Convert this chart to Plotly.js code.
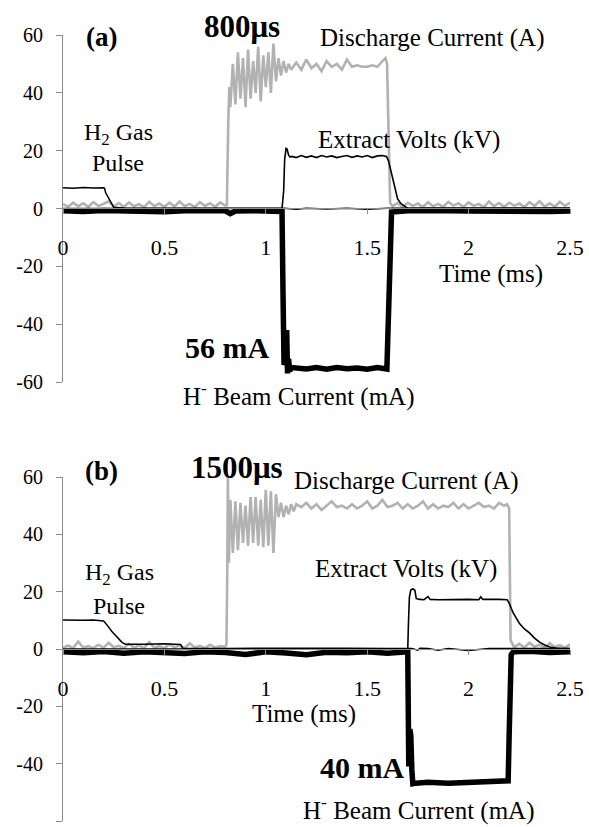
<!DOCTYPE html>
<html>
<head>
<meta charset="utf-8">
<script src="https://cdn.plot.ly/plotly-3.0.1.min.js"></script>
<style>html,body{margin:0;padding:0;background:#fff;}#chart{width:589px;height:827px;}</style>
</head>
<body>
<div id="chart"></div>
<script>
// ---------- Panel (a) : 800 us discharge ----------
const aDisT = [0,0.025,0.05,0.075,0.1,0.125,0.15,0.175,0.2,0.225,0.25,0.275,0.3,0.325,0.35,0.375,0.4,0.425,0.45,0.475,0.5,0.525,0.55,0.575,0.6,0.625,0.65,0.675,0.7,0.725,0.75,0.775,0.8,
  0.808,0.815,0.82,
  0.825,0.8375,0.85,0.8625,0.875,0.8875,0.9,0.9125,0.925,0.9375,0.95,0.9625,0.975,0.9875,1.0,1.0125,1.025,1.0375,1.05,1.0625,1.075,1.0875,1.1,1.1125,1.125,
  1.15,1.175,1.2,1.225,1.25,1.275,1.3,1.325,1.35,1.375,1.4,1.425,1.45,1.475,1.5,1.525,1.55,1.575,1.59,
  1.598,1.613,
  1.625,1.65,1.675,1.7,1.725,1.75,1.775,1.8,1.825,1.85,1.875,1.9,1.925,1.95,1.975,2.0,2.025,2.05,2.075,2.1,2.125,2.15,2.175,2.2,2.225,2.25,2.275,2.3,2.325,2.35,2.375,2.4,2.425,2.45,2.475,2.5];
const aDisV = [1.5,0.6,2.0,0.8,1.8,0.5,2.2,0.9,1.6,2.5,0.7,1.9,0.6,2.1,0.8,1.5,0.5,2.3,0.9,1.7,0.6,2.0,0.7,2.4,0.8,1.6,0.5,2.2,0.9,1.8,0.6,2.1,1.0,
  1.2,30,42,
  35,50,36,54,38,52,35,55,38,51,40,56,37,53,42,54,40,57,44,52,46,51,47,50,48,
  50.5,48,51.5,48.5,50,47.5,51,49,50,48,51.5,49,49.5,49,49,49.5,49,51,52,
  50,2,
  0.8,1.9,0.6,2.0,0.9,1.7,0.5,2.2,0.8,1.6,0.6,2.3,1.0,1.8,0.6,2.1,0.9,1.6,0.5,2.4,0.8,1.9,0.6,2.0,1.0,1.7,0.5,2.2,0.9,2.5,0.7,1.8,0.6,2.3,0.9,2.0];

const aGasT = [0,0.05,0.1,0.15,0.2,0.205,0.21,0.22,0.23,0.24,0.25,0.3,0.6,0.9,1.09,1.15,1.2,1.3,1.4,1.5,1.6,1.8,2.1,2.5];
const aGasV = [7.2,7.0,7.3,7.1,7.2,7.0,5.5,4.2,2.8,1.2,0.4,0.2,0.2,0.1,0.1,-0.3,0.1,-0.2,0.1,-0.3,0.1,0.2,0.1,0.2];

const aExtT = [0,0.5,1.0,1.08,1.088,1.093,1.1,1.105,1.112,1.12,1.13,1.15,1.175,1.2,1.225,1.25,1.275,1.3,1.325,1.35,1.375,1.4,1.425,1.45,1.475,1.5,1.525,1.55,1.575,1.595,1.605,1.615,1.625,1.635,1.65,1.665,1.685,1.7,2.0,2.5];
const aExtV = [0,0,0,0,6,17,20.8,20.6,18.5,17.8,18.0,17.6,18.3,17.7,18.2,17.6,18.3,17.8,18.2,17.6,18.0,18.3,17.7,18.2,17.8,18.3,17.6,18.2,18.3,18.0,16.5,13.5,11,7.3,3.3,1.8,0.6,0,0,0];

const aBeamT = [0,0.1,0.2,0.3,0.4,0.5,0.6,0.7,0.8,0.825,0.85,0.95,1.05,1.08,1.085,1.09,1.098,1.103,1.107,1.112,1.118,1.13,1.2,1.25,1.3,1.35,1.4,1.45,1.5,1.55,1.597,1.605,1.612,1.62,1.7,1.8,1.9,2.0,2.1,2.2,2.3,2.4,2.5];
const aBeamV = [-0.8,-1.0,-0.7,-0.9,-0.8,-1.1,-0.8,-0.9,-0.8,-1.8,-0.9,-0.8,-0.9,-1.0,-30,-54,-53,-42,-57,-52,-56,-55,-55.5,-55,-55.6,-55,-55.4,-55.2,-55.6,-55,-55.5,-35,-8,-1.2,-0.8,-1.0,-0.8,-0.9,-1.0,-0.8,-0.9,-1.0,-0.9];

// ---------- Panel (b) : 1500 us discharge ----------
const bDisT = [0,0.025,0.05,0.075,0.1,0.125,0.15,0.175,0.2,0.225,0.25,0.275,0.3,0.325,0.35,0.375,0.4,0.425,0.45,0.475,0.5,0.525,0.55,0.575,0.6,0.625,0.65,0.675,0.7,0.725,0.75,0.775,0.8,
  0.806,0.81,0.813,0.818,
  0.825,0.8375,0.85,0.8625,0.875,0.8875,0.9,0.9125,0.925,0.9375,0.95,0.9625,0.975,0.9875,1.0,1.0125,1.025,1.0375,1.05,1.0625,1.075,1.0875,1.1,1.1125,1.125,1.1375,1.15,
  1.175,1.2,1.225,1.25,1.275,1.3,1.325,1.35,1.375,1.4,1.425,1.45,1.475,1.5,1.525,1.55,1.575,1.6,1.625,1.65,1.675,1.7,1.725,1.75,1.775,1.8,1.825,1.85,1.875,1.9,1.925,1.95,1.975,2.0,2.025,2.05,2.075,2.1,2.125,2.15,2.175,
  2.19,2.2,2.207,
  2.225,2.25,2.275,2.3,2.325,2.35,2.375,2.4,2.425,2.45,2.475,2.5];
const bDisV = [0.4,1.2,0.3,2.6,0.5,1.0,0.3,1.5,0.4,2.2,0.6,1.1,0.3,1.8,0.5,1.2,0.4,2.4,0.5,1.0,0.3,1.6,0.6,1.2,0.4,2.0,0.5,1.1,0.3,1.5,0.5,1.0,0.8,
  1.5,28,60,30,
  52,33.5,51.5,34.5,51,37,50,36,53,37,53,36,52,35.5,55.5,36,55,33.5,54,46,51,46,50,47,50.5,48,50.5,
  49.5,51,49,50.5,48.5,50,51.5,49.5,50,49,50.5,49,50,51.5,49,50,52,49.5,50,51,49,50.5,49,50,51.5,49,50.5,49,50,49.5,51,49,50.5,49,50,51,49.5,50,49,51,50,
  50.5,49,3,
  0.6,1.8,0.5,2.2,0.8,1.5,0.4,2.0,0.7,1.3,0.5,1.6];

const bGasT = [0,0.05,0.1,0.15,0.195,0.2,0.21,0.22,0.23,0.24,0.25,0.26,0.27,0.28,0.29,0.3,0.31,0.4,0.5,0.58,0.59,0.8,1.0,1.2,1.4,1.6,1.72,1.75,1.76,1.8,1.85,1.9,2.0,2.1,2.2,2.3,2.5];
const bGasV = [10.1,10.0,10.0,10.1,10.0,9.8,9.0,8.2,7.2,6.2,5.4,4.6,3.8,3.0,2.4,1.9,1.7,1.7,1.8,1.6,0.3,0.2,0.3,0.2,0.3,0.2,0.2,-0.4,0.3,0.2,-0.4,0.2,-0.5,0.2,0.2,0.2,0.2];

const bExtT = [0,0.5,1.0,1.5,1.7,1.703,1.708,1.715,1.725,1.735,1.742,1.76,1.78,1.8,1.81,1.85,1.9,1.95,2.0,2.05,2.06,2.07,2.1,2.15,2.19,2.2,2.21,2.22,2.25,2.275,2.3,2.325,2.35,2.375,2.4,2.43,2.46,2.5];
const bExtV = [0,0,0,0,0,8,18,20.6,21.0,20.5,17.6,17.3,17.2,18.3,17.3,17.2,17.3,17.2,17.3,17.2,18.2,17.3,17.2,17.3,17.2,16.0,14.2,12.6,9.0,7.0,5.6,3.8,2.4,1.4,0.7,0.3,0.2,0.2];

const bBeamT = [0,0.1,0.2,0.3,0.4,0.5,0.6,0.7,0.8,0.9,1.0,1.1,1.2,1.3,1.4,1.5,1.6,1.7,1.702,1.705,1.71,1.715,1.72,1.725,1.74,1.8,1.9,2.0,2.1,2.195,2.2,2.205,2.21,2.22,2.3,2.4,2.5];
const bBeamV = [-1.0,-1.3,-0.9,-1.5,-1.0,-1.2,-1.6,-1.0,-1.2,-1.9,-1.0,-1.4,-2.0,-1.1,-1.3,-1.0,-1.5,-1.0,-25,-41,-28,-30,-42,-47,-46.8,-46.5,-46.8,-46.4,-46.2,-46,-30,-10,-2,-1.0,-0.8,-1.2,-1.0];

// ---------- Axis ticks ----------
const xTickVals = [0,0.5,1,1.5,2,2.5];
const xTickText = ['0','0.5','1','1.5','2','2.5'];
const yTickVals = [-60,-40,-20,0,20,40,60];
const yTickText = ['-60','-40','-20','0','20','40','60'];

// ---------- Build ----------
const W = 589, H = 827;
const fx = p => p / W;
const fy = p => 1 - p / H;
const SERIF = 'Liberation Serif';
const GRAY = 'rgb(178,178,178)';
const AXC = '#8c8c8c';

function traces(xa, ya, dT, dV, gT, gV, eT, eV, bT, bV) {
  return [
    {x: dT, y: dV, xaxis: xa, yaxis: ya, mode: 'lines', line: {color: GRAY, width: 2.6}, hoverinfo: 'skip'},
    {x: gT, y: gV, xaxis: xa, yaxis: ya, mode: 'lines', line: {color: '#000', width: 1.5}, hoverinfo: 'skip'},
    {x: eT, y: eV, xaxis: xa, yaxis: ya, mode: 'lines', line: {color: '#000', width: 1.6}, hoverinfo: 'skip'},
    {x: bT, y: bV, xaxis: xa, yaxis: ya, mode: 'lines', line: {color: '#000', width: 5.5}, hoverinfo: 'skip'}
  ];
}

const data = [].concat(
  traces('x', 'y', aDisT, aDisV, aGasT, aGasV, aExtT, aExtV, aBeamT, aBeamV),
  traces('x2', 'y2', bDisT, bDisV, bGasT, bGasV, bExtT, bExtV, bBeamT, bBeamV)
);

function xAxis(posPx) {
  return {
    domain: [fx(63), fx(570)], range: [0, 2.5], anchor: 'free', position: fy(posPx),
    showline: true, linecolor: AXC, linewidth: 1, ticks: 'outside', ticklen: 5, tickcolor: AXC,
    tickvals: xTickVals, ticktext: xTickText, tickfont: {family: SERIF, size: 22, color: '#000'},
    showgrid: false, zeroline: false, ticklabelstandoff: 15, fixedrange: true
  };
}
function yAxis(topPx, botPx, anchor) {
  return {
    domain: [fy(botPx), fy(topPx)], range: [-60, 60], anchor: anchor,
    showline: true, linecolor: AXC, linewidth: 1, ticks: 'outside', ticklen: 6, tickcolor: AXC,
    tickvals: yTickVals, ticktext: yTickText, tickfont: {family: SERIF, size: 20, color: '#000'},
    showgrid: false, zeroline: false, ticklabelstandoff: 9, fixedrange: true
  };
}

function ann(text, xp, yp, size, bold) {
  return {text: bold ? '<b>' + text + '</b>' : text, xref: 'paper', yref: 'paper', x: fx(xp), y: fy(yp),
    xanchor: 'center', yanchor: 'middle', showarrow: false,
    font: {family: SERIF, size: size, color: '#000'}};
}

const annotations = [
  ann('(a)', 101, 37, 27, true),
  ann('800μs', 242, 26, 31, true),
  ann('Discharge Current (A)', 432, 38, 25, false),
  ann('Extract Volts (kV)', 409, 140, 25, false),
  ann('H<sub>2</sub> Gas', 118, 134, 24, false),
  ann('Pulse', 118, 163, 24, false),
  ann('Time (ms)', 491, 274, 25, false),
  ann('56 mA', 227, 347, 30, true),
  ann('H<sup>-</sup> Beam Current (mA)', 298, 394, 25, false),

  ann('(b)', 101, 471, 27, true),
  ann('1500μs', 237, 467, 31, true),
  ann('Discharge Current (A)', 406, 481, 25, false),
  ann('Extract Volts (kV)', 406, 569, 25, false),
  ann('H<sub>2</sub> Gas', 119, 574, 24, false),
  ann('Pulse', 119, 606, 24, false),
  ann('Time (ms)', 304, 714, 25, false),
  ann('40 mA', 362, 767, 30, true),
  ann('H<sup>-</sup> Beam Current (mA)', 418, 808, 25, false)
];

const layout = {
  width: W, height: H,
  margin: {l: 0, r: 0, t: 0, b: 0, pad: 0},
  paper_bgcolor: '#fff', plot_bgcolor: 'rgba(0,0,0,0)',
  showlegend: false,
  font: {family: SERIF, color: '#000'},
  xaxis: xAxis(208),
  yaxis: yAxis(35, 382, 'x'),
  xaxis2: xAxis(649),
  yaxis2: yAxis(477, 821, 'x2'),
  annotations: annotations
};

Plotly.newPlot('chart', data, layout, {staticPlot: true, displayModeBar: false});
</script>
</body>
</html>
